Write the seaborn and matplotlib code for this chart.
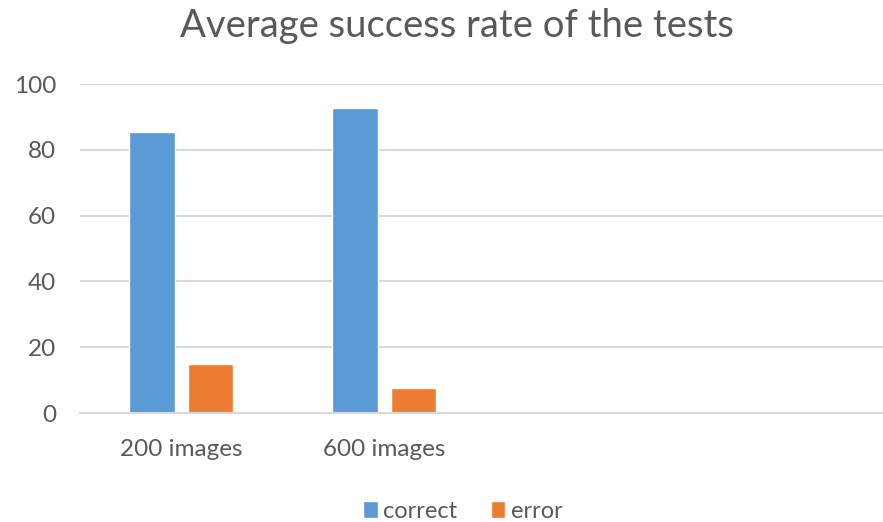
import pandas as pd
import seaborn as sns
import matplotlib.pyplot as plt

categories = ["200 images", "600 images"]
series = ["correct", "error"]
correct = [85.3, 92.6]
error = [14.9, 7.5]

data = pd.DataFrame({
    "category": categories * 2,
    "series": ["correct"] * 2 + ["error"] * 2,
    "value": correct + error,
})

sns.set_style("white")
plt.rcParams['font.family'] = ['Lato', 'DejaVu Sans']
text_col = "#595959"

fig = plt.figure(figsize=(8.83, 5.22), dpi=100)
ax = fig.add_axes([0.0904, 0.2088, 0.9096, 0.6302])

sns.barplot(data=data, x="category", y="value", hue="series", order=categories,
            hue_order=series, palette=["#5b9bd5", "#ed7d31"], width=0.576, gap=0.22,
            saturation=1, ax=ax, legend=True)

ax.set_xlim(-0.5, 3.457)
ax.set_ylim(0, 100)
ax.set_yticks([0, 20, 40, 60, 80, 100])
ax.yaxis.grid(True, color="#d9d9d9", linewidth=1.5)
ax.set_axisbelow(True)
for s in ["top", "right", "left"]:
    ax.spines[s].set_visible(False)
ax.spines["bottom"].set_color("#d9d9d9")
ax.spines["bottom"].set_linewidth(1.5)
ax.tick_params(axis="both", length=0, labelsize=17.5, colors=text_col)
ax.tick_params(axis="y", pad=17)
ax.tick_params(axis="x", pad=19)
ax.set_xlabel("")
ax.set_ylabel("")

fig.suptitle("Average success rate of the tests", x=0.518, y=0.985, fontsize=27.5, color=text_col)

ax.legend(loc="lower center", bbox_to_anchor=(0.477, -0.395), ncol=2, frameon=False,
          fontsize=17, labelcolor=text_col, handlelength=0.6, handleheight=0.72,
          columnspacing=1.4, handletextpad=0.25)

fig.savefig("out.png", dpi=100)
